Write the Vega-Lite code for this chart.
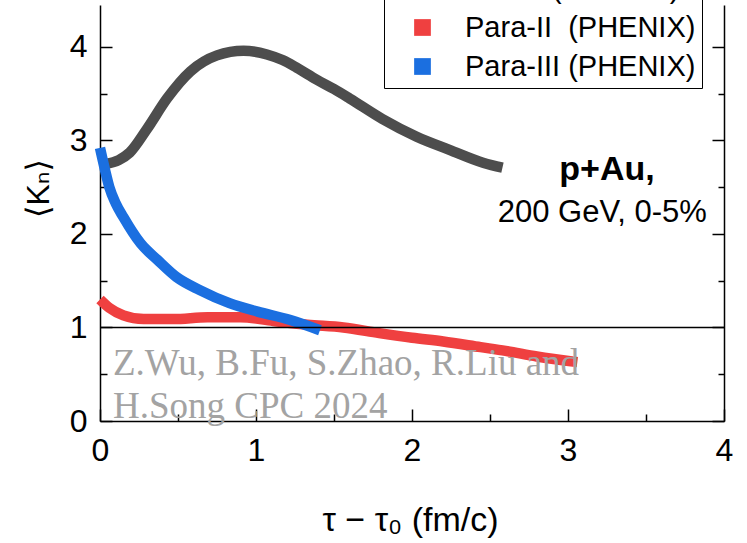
{
  "$schema": "https://vega.github.io/schema/vega-lite/v6.json",
  "width": 624,
  "height": 416,
  "autosize": "none",
  "padding": {"left": 100, "top": 5, "right": 23, "bottom": 122},
  "background": "white",
  "config": {"view": {"stroke": null}, "font": "Liberation Sans"},
  "datasets": {
    "curves": [
      {"series": "Para-I (PHENIX)", "t": 0.04, "k": 2.75},
      {"series": "Para-I (PHENIX)", "t": 0.12, "k": 2.79},
      {"series": "Para-I (PHENIX)", "t": 0.19, "k": 2.87},
      {"series": "Para-I (PHENIX)", "t": 0.30, "k": 3.12},
      {"series": "Para-I (PHENIX)", "t": 0.43, "k": 3.45},
      {"series": "Para-I (PHENIX)", "t": 0.58, "k": 3.74},
      {"series": "Para-I (PHENIX)", "t": 0.75, "k": 3.91},
      {"series": "Para-I (PHENIX)", "t": 0.92, "k": 3.96},
      {"series": "Para-I (PHENIX)", "t": 1.07, "k": 3.92},
      {"series": "Para-I (PHENIX)", "t": 1.17, "k": 3.86},
      {"series": "Para-I (PHENIX)", "t": 1.26, "k": 3.78},
      {"series": "Para-I (PHENIX)", "t": 1.39, "k": 3.65},
      {"series": "Para-I (PHENIX)", "t": 1.50, "k": 3.55},
      {"series": "Para-I (PHENIX)", "t": 1.60, "k": 3.45},
      {"series": "Para-I (PHENIX)", "t": 1.81, "k": 3.23},
      {"series": "Para-I (PHENIX)", "t": 2.03, "k": 3.04},
      {"series": "Para-I (PHENIX)", "t": 2.24, "k": 2.90},
      {"series": "Para-I (PHENIX)", "t": 2.46, "k": 2.76},
      {"series": "Para-I (PHENIX)", "t": 2.58, "k": 2.71},
      {"series": "Para-II\u00a0 (PHENIX)", "t": 0.0, "k": 1.30},
      {"series": "Para-II\u00a0 (PHENIX)", "t": 0.06, "k": 1.21},
      {"series": "Para-II\u00a0 (PHENIX)", "t": 0.15, "k": 1.13},
      {"series": "Para-II\u00a0 (PHENIX)", "t": 0.28, "k": 1.09},
      {"series": "Para-II\u00a0 (PHENIX)", "t": 0.47, "k": 1.09},
      {"series": "Para-II\u00a0 (PHENIX)", "t": 0.69, "k": 1.11},
      {"series": "Para-II\u00a0 (PHENIX)", "t": 0.90, "k": 1.11},
      {"series": "Para-II\u00a0 (PHENIX)", "t": 1.11, "k": 1.07},
      {"series": "Para-II\u00a0 (PHENIX)", "t": 1.33, "k": 1.03},
      {"series": "Para-II\u00a0 (PHENIX)", "t": 1.56, "k": 1.00},
      {"series": "Para-II\u00a0 (PHENIX)", "t": 1.79, "k": 0.94},
      {"series": "Para-II\u00a0 (PHENIX)", "t": 2.00, "k": 0.89},
      {"series": "Para-II\u00a0 (PHENIX)", "t": 2.20, "k": 0.85},
      {"series": "Para-II\u00a0 (PHENIX)", "t": 2.44, "k": 0.79},
      {"series": "Para-II\u00a0 (PHENIX)", "t": 2.60, "k": 0.75},
      {"series": "Para-II\u00a0 (PHENIX)", "t": 2.80, "k": 0.69},
      {"series": "Para-II\u00a0 (PHENIX)", "t": 3.06, "k": 0.63},
      {"series": "Para-III (PHENIX)", "t": 0.0, "k": 2.92},
      {"series": "Para-III (PHENIX)", "t": 0.03, "k": 2.70},
      {"series": "Para-III (PHENIX)", "t": 0.06, "k": 2.50},
      {"series": "Para-III (PHENIX)", "t": 0.10, "k": 2.33},
      {"series": "Para-III (PHENIX)", "t": 0.15, "k": 2.18},
      {"series": "Para-III (PHENIX)", "t": 0.26, "k": 1.90},
      {"series": "Para-III (PHENIX)", "t": 0.37, "k": 1.72},
      {"series": "Para-III (PHENIX)", "t": 0.49, "k": 1.54},
      {"series": "Para-III (PHENIX)", "t": 0.64, "k": 1.40},
      {"series": "Para-III (PHENIX)", "t": 0.83, "k": 1.26},
      {"series": "Para-III (PHENIX)", "t": 1.01, "k": 1.17},
      {"series": "Para-III (PHENIX)", "t": 1.22, "k": 1.08},
      {"series": "Para-III (PHENIX)", "t": 1.41, "k": 0.97}
    ],
    "one": [{}]
  },
  "layer": [
    {
      "layer": [
        {
          "data": {"name": "curves"},
          "mark": {"type": "line", "strokeWidth": 10.5, "strokeCap": "butt", "strokeJoin": "round", "interpolate": "monotone"},
          "encoding": {
            "x": {
              "field": "t", "type": "quantitative",
              "scale": {"domain": [0, 4], "nice": false, "zero": false},
              "axis": {
                "values": [0, 0.5, 1, 1.5, 2, 2.5, 3, 3.5, 4],
                "labelExpr": "datum.value % 1 === 0 ? '' + datum.value : ''",
                "tickSize": {"condition": {"test": "datum.value % 1 === 0", "value": -12}, "value": -7},
                "labelPadding": 26, "labelFontSize": 32, "labelFont": "Liberation Sans", "labelColor": "black",
                "labelFlush": false, "labelOverlap": false,
                "tickColor": "black", "tickWidth": 1.5, "domainColor": "black", "domainWidth": 1.5, "grid": false,
                "title": "\u03c4 \u2212 \u03c4\u2080 (fm/c)", "titleFont": "Liberation Sans", "titleFontSize": 34,
                "titleFontWeight": "normal", "titleColor": "black", "titleX": 310, "titleY": 99,
                "titleBaseline": "middle", "titleAlign": "center"
              }
            },
            "y": {
              "field": "k", "type": "quantitative",
              "scale": {"domain": [0, 4.449], "nice": false, "zero": false},
              "axis": {
                "orient": "left",
                "values": [0, 0.5, 1, 1.5, 2, 2.5, 3, 3.5, 4],
                "labelExpr": "datum.value % 1 === 0 ? '' + datum.value : ''",
                "tickSize": {"condition": {"test": "datum.value % 1 === 0", "value": -12}, "value": -7},
                "labelPadding": 25, "labelFontSize": 32, "labelFont": "Liberation Sans", "labelColor": "black",
                "labelFlush": false, "labelOverlap": false,
                "tickColor": "black", "tickWidth": 1.5, "domainColor": "black", "domainWidth": 1.5, "grid": false,
                "title": "\u27e8K\u2099\u27e9", "titleFont": "Liberation Sans, DejaVu Sans", "titleFontSize": 32,
                "titleFontWeight": "normal", "titleColor": "black", "titleX": -62, "titleY": 183,
                "titleBaseline": "middle", "titleAlign": "center", "titleAngle": -90
              }
            },
            "color": {
              "field": "series", "type": "nominal",
              "scale": {
                "domain": ["Para-I (PHENIX)", "Para-II\u00a0 (PHENIX)", "Para-III (PHENIX)"],
                "range": ["#4d4d4d", "#ef4040", "#1b6fe0"]
              },
              "legend": {
                "orient": "none", "legendX": 284, "legendY": -37, "direction": "vertical", "title": null,
                "labelFont": "Liberation Sans", "labelFontSize": 29, "labelColor": "black", "labelLimit": 400,
                "symbolType": "square", "symbolSize": 280, "symbolStrokeWidth": 0,
                "strokeColor": "black", "fillColor": "white", "padding": 6, "rowPadding": 9,
                "symbolOffset": 18, "labelOffset": 28,
                "encode": {"symbols": {"update": {"fill": {"scale": "color", "field": "value"}, "stroke": {"value": "transparent"}, "opacity": {"value": 1}}}}
              }
            }
          }
        },
        {
          "data": {"name": "one"},
          "mark": {"type": "text", "font": "Liberation Sans", "fontSize": 34, "fontWeight": "bold", "align": "center", "baseline": "alphabetic", "color": "black"},
          "encoding": {
            "x": {"datum": 3.25, "type": "quantitative"},
            "y": {"datum": 2.578, "type": "quantitative"},
            "text": {"value": "p+Au,"}
          }
        },
        {
          "data": {"name": "one"},
          "mark": {"type": "text", "font": "Liberation Sans", "fontSize": 31, "align": "center", "baseline": "alphabetic", "color": "black"},
          "encoding": {
            "x": {"datum": 3.22, "type": "quantitative"},
            "y": {"datum": 2.13, "type": "quantitative"},
            "text": {"value": "200 GeV, 0-5%"}
          }
        },
        {
          "data": {"name": "one"},
          "mark": {"type": "text", "font": "Liberation Serif", "fontSize": 37, "align": "left", "baseline": "alphabetic", "color": "#a3a3a3", "lineHeight": 43},
          "encoding": {
            "x": {"datum": 0.083, "type": "quantitative"},
            "y": {"datum": 0.49, "type": "quantitative"},
            "text": {"value": ["Z.Wu, B.Fu, S.Zhao, R.Liu and", "H.Song CPC 2024"]}
          }
        }
      ]
    },
    {
      "data": {"name": "one"},
      "mark": {"type": "rule", "color": "black", "strokeWidth": 1.5},
      "encoding": {
        "y": {
          "datum": 1, "type": "quantitative",
          "scale": {"domain": [0, 4.449], "nice": false, "zero": false},
          "axis": {
            "orient": "right",
            "values": [0, 0.5, 1, 1.5, 2, 2.5, 3, 3.5, 4],
            "labels": false, "title": null,
            "tickSize": {"condition": {"test": "datum.value % 1 === 0", "value": -12}, "value": -6},
            "tickColor": "black", "tickWidth": 1.5, "domainColor": "black", "domainWidth": 1.5, "grid": false
          }
        }
      }
    }
  ],
  "resolve": {"scale": {"y": "independent"}}
}
